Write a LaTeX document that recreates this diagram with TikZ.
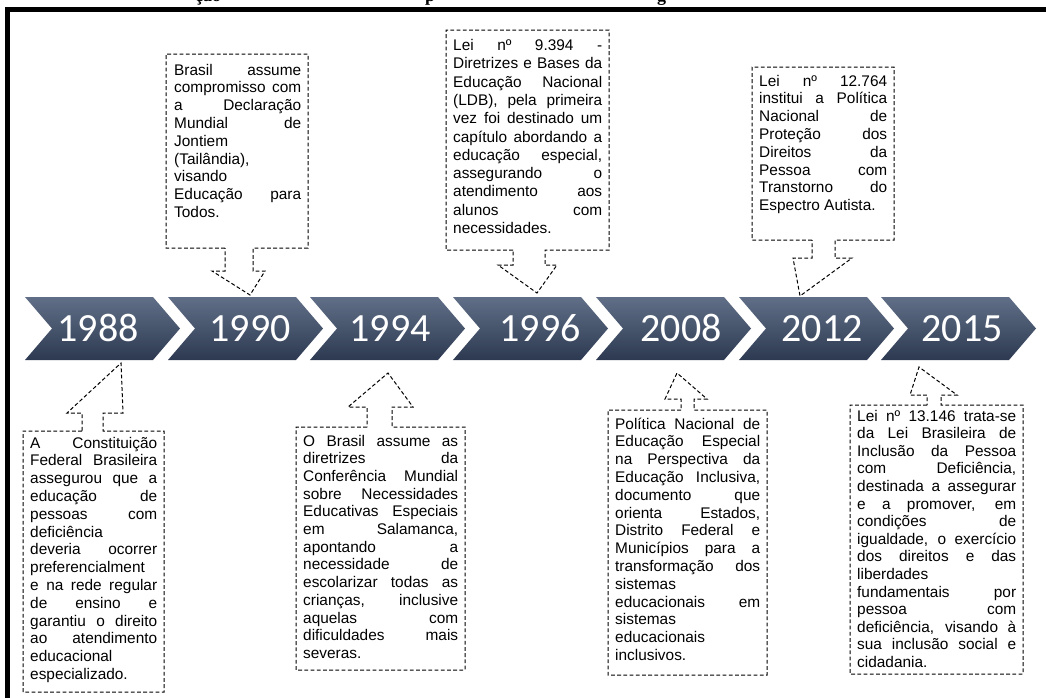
\documentclass[tikz,border=0pt]{standalone}
\usepackage{fontspec}
\setmainfont{Liberation Sans}
\newfontfamily\yearfont{Carlito}
\newfontfamily\titlefont{Liberation Serif}
\definecolor{chevtop}{RGB}{96,111,135}
\definecolor{chevbot}{RGB}{44,57,81}
\newcommand\J[1]{\hbox to\hsize{#1}}
\newcommand\Lf[1]{\hbox{#1}}
\newcommand\tb[3]{\vtop{\hsize=#1\baselineskip=#2\lineskiplimit=-\maxdimen\lineskip=0pt\relax #3}}
\tikzset{
  callout/.style={draw=black, line width=1pt, dash pattern=on 3.8pt off 2.4pt},
  chev/.style={top color=chevtop, bottom color=chevbot, draw=none},
  year/.style={font=\yearfont\fontsize{40}{40}\selectfont, text=white, inner sep=0pt, anchor=base},
  txt/.style={anchor=base west, inner sep=0pt, font=\fontsize{15.4}{17.8}\selectfont, text=black},
  frag/.style={anchor=base west, inner sep=0pt, font=\titlefont\bfseries\fontsize{18}{18}\selectfont},
}
\begin{document}
\begin{tikzpicture}[x=1pt,y=-1pt]
\useasboundingbox (0,0) rectangle (1046,697);
\clip (0,0) rectangle (1046,697);
\fill[white] (0,0) rectangle (1046,697);
% cut-off title fragments
\node[frag] (f1) at (195,1.5) {ção};
\node[frag] (f2) at (425,1.5) {p};
\node[frag] (f3) at (657,1.5) {g};
% frame
\draw[line width=4.5pt] (7.5,700) -- (7.5,9.7) -- (1050,9.7);
% chevrons
\foreach \x/\cx/\yr in {25/98/1988,168/250/1990,310/390/1994,453/540/1996,596/681/2008,739/822/2012,881/962/2015}{
  \shade[chev] (\x,297) -- (\x+128,297) -- (\x+155,328.5) -- (\x+128,360) -- (\x,360) -- (\x+27,328.5) -- cycle;
  \node[year] (y\yr) at (\cx,341.5) {\yr};
}
% callouts (box outline with arrow)
\draw[callout] (225,248) -- (166,248) -- (166,54) -- (308,54) -- (308,248) -- (253,248) -- (253,271) -- (265,271) -- (250,295) -- (212,271) -- (225,271) -- cycle;
\draw[callout] (513,250) -- (446,250) -- (446,30) -- (609,30) -- (609,250) -- (545,250) -- (545,265) -- (557,265) -- (537,293) -- (498,265) -- (513,265) -- cycle;
\draw[callout] (812,240) -- (752,240) -- (752,67) -- (894,67) -- (894,240) -- (835,240) -- (835,258) -- (852,258) -- (800,296) -- (793,258) -- (812,258) -- cycle;
\draw[callout] (82,431) -- (23,431) -- (23,692) -- (164,692) -- (164,431) -- (103,431) -- (103,413) -- (123,413) -- (121,363) -- (67,413) -- (82,413) -- cycle;
\draw[callout] (367,427) -- (296,427) -- (296,670) -- (465,670) -- (465,427) -- (392,427) -- (392,407) -- (413,407) -- (388,373) -- (348,407) -- (367,407) -- cycle;
\draw[callout] (681,410) -- (608,410) -- (608,675) -- (767,675) -- (767,410) -- (694,410) -- (694,399) -- (707,399) -- (677,373) -- (665,399) -- (681,399) -- cycle;
\draw[callout] (927,405) -- (850,405) -- (850,674) -- (1023,674) -- (1023,405) -- (941,405) -- (941,395) -- (957,395) -- (919,367) -- (910,395) -- (927,395) -- cycle;
% texts
\node[txt] (t1988) at (30,448) {\tb{127pt}{17.8pt}{%
\J{A Constituição}
\J{Federal Brasileira}
\J{assegurou que a}
\J{educação de}
\J{pessoas com}
\Lf{deficiência}
\J{deveria ocorrer}
\Lf{preferencialment}
\J{e na rede regular}
\J{de ensino e}
\J{garantiu o direito}
\J{ao atendimento}
\Lf{educacional}
\Lf{especializado.}}};
\node[txt] (t1990) at (174,75) {\tb{127pt}{17.8pt}{%
\J{Brasil assume}
\J{compromisso com}
\J{a Declaração}
\J{Mundial de}
\Lf{Jontiem}
\Lf{(Tailândia),}
\Lf{visando}
\J{Educação para}
\Lf{Todos.}}};
\node[txt] (t1994) at (303,446) {\tb{155pt}{17.7pt}{%
\J{O Brasil assume as}
\J{diretrizes da}
\J{Conferência Mundial}
\J{sobre Necessidades}
\J{Educativas Especiais}
\J{em Salamanca,}
\J{apontando a}
\J{necessidade de}
\J{escolarizar todas as}
\J{crianças, inclusive}
\J{aquelas com}
\J{dificuldades mais}
\Lf{severas.}}};
\node[txt] (t1996) at (453,50.5) {\tb{149pt}{18.3pt}{%
\J{Lei nº 9.394 -}
\J{Diretrizes e Bases da}
\J{Educação Nacional}
\J{(LDB), pela primeira}
\J{vez foi destinado um}
\J{capítulo abordando a}
\J{educação especial,}
\J{assegurando o}
\J{atendimento aos}
\J{alunos com}
\Lf{necessidades.}}};
\node[txt] (t2008) at (615,429) {\tb{145pt}{17.8pt}{%
\J{Política Nacional de}
\J{Educação Especial}
\J{na Perspectiva da}
\J{Educação Inclusiva,}
\J{documento que}
\J{orienta Estados,}
\J{Distrito Federal e}
\J{Municípios para a}
\J{transformação dos}
\Lf{sistemas}
\J{educacionais em}
\Lf{sistemas}
\Lf{educacionais}
\Lf{inclusivos.}}};
\node[txt] (t2012) at (759,86) {\tb{128pt}{17.8pt}{%
\J{Lei nº 12.764}
\J{institui a Política}
\J{Nacional de}
\J{Proteção dos}
\J{Direitos da}
\J{Pessoa com}
\J{Transtorno do}
\Lf{Espectro Autista.}}};
\node[txt] (t2015) at (857,421) {\tb{159pt}{17.6pt}{%
\J{Lei nº 13.146 trata-se}
\J{da Lei Brasileira de}
\J{Inclusão da Pessoa}
\J{com Deficiência,}
\J{destinada a assegurar}
\J{e a promover, em}
\J{condições de}
\J{igualdade, o exercício}
\J{dos direitos e das}
\Lf{liberdades}
\J{fundamentais por}
\J{pessoa com}
\J{deficiência, visando à}
\J{sua inclusão social e}
\Lf{cidadania.}}};
\end{tikzpicture}
\end{document}
